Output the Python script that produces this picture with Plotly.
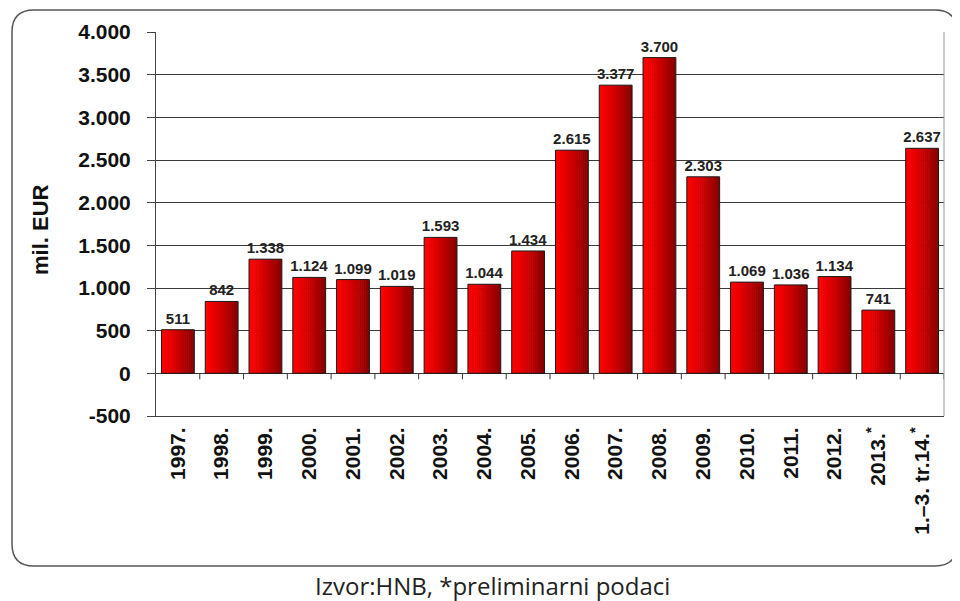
import plotly.graph_objects as go

categories = ["1997.", "1998.", "1999.", "2000.", "2001.", "2002.", "2003.", "2004.", "2005.",
              "2006.", "2007.", "2008.", "2009.", "2010.", "2011.", "2012.", "2013.<sup>*</sup>",
              "1.–3. tr.14.<sup>*</sup>"]
values = [511, 842, 1338, 1124, 1099, 1019, 1593, 1044, 1434,
          2615, 3377, 3700, 2303, 1069, 1036, 1134, 741, 2637]
y_tickvals = [-500, 0, 500, 1000, 1500, 2000, 2500, 3000, 3500, 4000]
y_ticktext = ["-500", "0", "500", "1.000", "1.500", "2.000", "2.500", "3.000", "3.500", "4.000"]
y_title = "mil. EUR"
caption = "Izvor:HNB, *preliminarni podaci"

FONT = "Liberation Sans, Arial, sans-serif"
x_idx = list(range(len(categories)))

fig = go.Figure()

# gradient bars built from vertical strips
BW = 0.75
N = 16
s = BW / N
for k in range(N):
    t = (k + 0.5) / N
    tt = t ** 1.3
    r = int(255 - (255 - 130) * tt)
    off = -BW / 2 + k * s
    w = min(s * 1.3, BW / 2 - off)
    fig.add_trace(go.Bar(x=x_idx, y=values, width=w, offset=off,
                         marker=dict(color=f"rgb({r},0,0)", line=dict(width=0)),
                         showlegend=False, hoverinfo="skip"))

# outline + labels
fig.add_trace(go.Bar(x=x_idx, y=values, width=BW, offset=-BW / 2,
                     marker=dict(color="rgba(0,0,0,0)", line=dict(color="#1a1a1a", width=1)),
                     texttemplate="%{y:,}", textposition="outside", cliponaxis=False,
                     constraintext="none",
                     textfont=dict(family=FONT, size=15, color="#222", weight="bold"),
                     showlegend=False))

# page offset of 8px (body margin); reference pixel coords -> figure coords
OFF = 8
W, H = 952, 593
L = 156 - OFF
T = 32 - OFF
R = W - (944 - OFF)
B = H - (416 - OFF)
pw, ph = W - L - R, H - T - B

def px(xp):
    return (xp - OFF - L) / pw

def py(yp):
    return (H - B - (yp - OFF)) / ph

shapes = []
# small ticks on the zero line at category boundaries
for i in range(1, len(categories) + 1):
    shapes.append(dict(type="line", xref="x", yref="y", x0=i - 0.5, x1=i - 0.5,
                       ysizemode="pixel", yanchor=0, y0=0, y1=-6,
                       line=dict(color="#333", width=1)))
# right frame line
shapes.append(dict(type="line", xref="paper", yref="paper", x0=1, x1=1, y0=0, y1=1,
                   line=dict(color="#999", width=1)))
# rounded outer box
x0, x1 = px(12), px(957)
y0, y1 = py(566), py(10)
rx, ry = 22 / pw, 22 / ph
path = (f"M {x0+rx},{y1} L {x1-rx},{y1} Q {x1},{y1} {x1},{y1-ry} "
        f"L {x1},{y0+ry} Q {x1},{y0} {x1-rx},{y0} "
        f"L {x0+rx},{y0} Q {x0},{y0} {x0},{y0+ry} "
        f"L {x0},{y1-ry} Q {x0},{y1} {x0+rx},{y1} Z")
shapes.append(dict(type="path", xref="paper", yref="paper", path=path,
                   line=dict(color="#555", width=1.5), layer="below"))

fig.update_layout(
    width=W, height=H,
    margin=dict(l=L, r=R, t=T, b=B),
    paper_bgcolor="white", plot_bgcolor="white",
    barmode="overlay",
    separators=",.",
    shapes=shapes,
    xaxis=dict(range=[-0.5, len(categories) - 0.5], tickmode="array", tickvals=x_idx,
               ticktext=categories, tickangle=-90, showgrid=False, zeroline=False,
               showline=True, linecolor="#444", linewidth=1, ticks="",
               ticklabelstandoff=2,
               tickfont=dict(family=FONT, size=21, color="#111", weight="bold")),
    yaxis=dict(range=[-500, 4000], tickmode="array", tickvals=y_tickvals, ticktext=y_ticktext,
               showgrid=True, gridcolor="#3a3a3a", gridwidth=1, zeroline=False,
               showline=True, linecolor="#444", linewidth=1,
               ticks="outside", ticklen=8, tickcolor="#444",
               ticklabelstandoff=12,
               tickfont=dict(family=FONT, size=21, color="#111", weight="bold")),
    annotations=[
        dict(text=y_title, xref="paper", yref="paper", x=px(40), y=py(230),
             textangle=-90, showarrow=False, xanchor="center", yanchor="middle",
             font=dict(family=FONT, size=22, color="#111", weight="bold")),
        dict(text=caption, xref="paper", yref="paper", x=px(492), y=py(585),
             showarrow=False, xanchor="center", yanchor="middle",
             font=dict(family="Open Sans, Noto Sans, sans-serif", size=24, color="#222")),
    ],
)

fig.write_html("out.html")
